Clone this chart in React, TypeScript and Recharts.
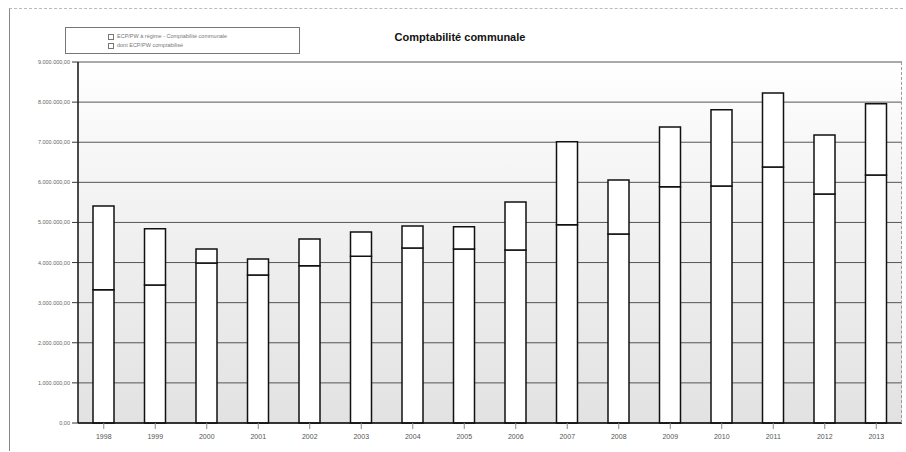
import React from "react";
import { BarChart, Bar, XAxis, YAxis, CartesianGrid } from "recharts";

const years = ["1998","1999","2000","2001","2002","2003","2004","2005","2006","2007","2008","2009","2010","2011","2012","2013"];
const baseValues = [3320000,3440000,3990000,3690000,3920000,4160000,4360000,4340000,4310000,4940000,4710000,5890000,5910000,6380000,5710000,6180000];
const totalValues = [5410000,4840000,4340000,4090000,4590000,4760000,4910000,4890000,5510000,7010000,6060000,7380000,7810000,8230000,7180000,7960000];
const yTicks = [0,1000000,2000000,3000000,4000000,5000000,6000000,7000000,8000000,9000000];
const seriesNames = ["ECP/PW à régime - Comptabilité communale", "dont ECP/PW comptabilisé"];
const title = "Comptabilité communale";

const data = years.map((y, i) => ({
  year: y,
  base: baseValues[i],
  top: totalValues[i] - baseValues[i],
}));

const fmt = (v: number) => {
  if (v === 0) return "0,00";
  const s = Math.round(v).toString().replace(/\B(?=(\d{3})+(?!\d))/g, ".");
  return s + ",00";
};

export default function App() {
  return (
    <div style={{ position: "absolute", left: 0, top: 0, width: 906, height: 452, background: "#fff", fontFamily: "Arial, 'Liberation Sans', sans-serif" }}>
      <div style={{ position: "absolute", left: 9, top: 8, width: 893, height: 442, borderTop: "1px dashed #bbb", borderLeft: "1px solid #888" }} />
      <div style={{ position: "absolute", left: 360, top: 31, width: 200, textAlign: "center", fontSize: 11, fontWeight: "bold", color: "#111" }}>{title}</div>
      <div style={{ position: "absolute", left: 65, top: 27, width: 235, height: 27, border: "1px solid #777", boxSizing: "border-box", fontSize: 5.5, color: "#777", padding: "4px 0 0 42px", lineHeight: "9px" }}>
        {seriesNames.map((n) => (
          <div key={n} style={{ display: "flex", alignItems: "center" }}>
            <span style={{ display: "inline-block", width: 4, height: 4, border: "1px solid #777", marginRight: 3 }} />
            {n}
          </div>
        ))}
      </div>
      <BarChart width={906} height={452} data={data} margin={{ top: 62, right: 4, bottom: 9, left: 16 }} barCategoryGap={15} style={{ position: "absolute", left: 0, top: 0 }}>
        <defs>
          <linearGradient id="bg" x1="0" y1="0" x2="0" y2="1">
            <stop offset="0%" stopColor="#ffffff" />
            <stop offset="30%" stopColor="#f5f5f5" />
            <stop offset="100%" stopColor="#e2e2e2" />
          </linearGradient>
        </defs>
        <CartesianGrid vertical={false} stroke="#555" strokeWidth={1} fill="url(#bg)" fillOpacity={1} />
        <XAxis dataKey="year" height={20} tickLine={{ stroke: "#888" }} axisLine={{ stroke: "#111", strokeWidth: 1.5 }} tick={{ fontSize: 7, fill: "#555", dy: 3 }} interval={0} />
        <YAxis width={62} domain={[0, 9000000]} ticks={yTicks} tickFormatter={fmt} tick={{ fontSize: 5.5, fill: "#666" }} tickLine={{ stroke: "#333" }} axisLine={{ stroke: "#111", strokeWidth: 1.5 }} interval={0} />
        <Bar dataKey="base" stackId="a" fill="#ffffff" stroke="#111" strokeWidth={1.5} barSize={21} isAnimationActive={false} />
        <Bar dataKey="top" stackId="a" fill="#ffffff" stroke="#111" strokeWidth={1.5} barSize={21} isAnimationActive={false} />
      </BarChart>
      <div style={{ position: "absolute", left: 901, top: 62, width: 0, height: 361, borderRight: "1px dashed #999" }} />
    </div>
  );
}
